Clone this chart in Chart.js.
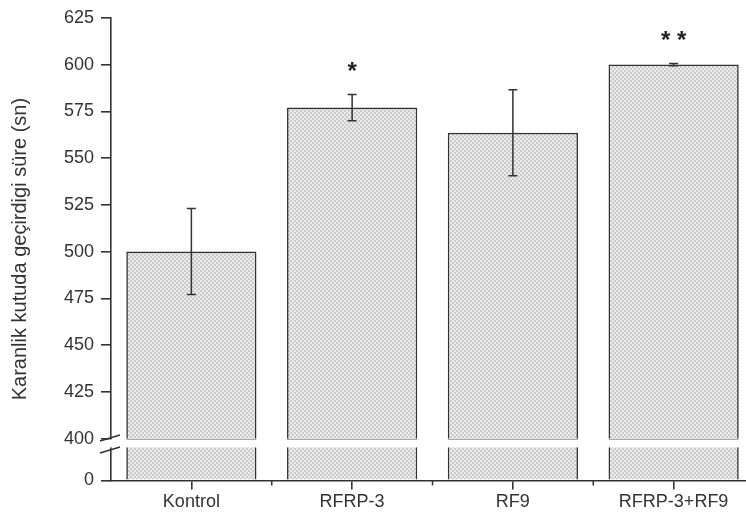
<!DOCTYPE html>
<html lang="tr">
<head>
    <meta charset="UTF-8">
    <title>Karanlik kutuda geçirdigi süre</title>
    <script src="https://cdn.jsdelivr.net/npm/chart.js"></script>
    <style>
        html, body {
            margin: 0;
            padding: 0;
            background: white;
            overflow: hidden;
        }
    </style>
</head>
<body>
    <canvas id="chart" width="760" height="515"></canvas>

    <script>
        const categories = ["Kontrol", "RFRP-3", "RF9", "RFRP-3+RF9"];
        const means = [500, 577, 563.5, 600];
        const sem = [23, 7, 23, 0.6];
        const marks = ["", "*", "", "* *"];
        const upperTicks = [400, 425, 450, 475, 500, 525, 550, 575, 600, 625];
        const lowerTicks = [0];
        const breakValue = 400;

        const ink = "#333";
        Chart.defaults.font.family = "'Liberation Sans', Arial, sans-serif";
        Chart.defaults.color = ink;

        // fine grey crosshatch like the original fill
        function hatch() {
            const c = document.createElement("canvas");
            c.width = 4; c.height = 4;
            const g = c.getContext("2d");
            for (let y = 0; y < 4; y++) {
                for (let x = 0; x < 4; x++) {
                    g.fillStyle = ((x >> 1) + (y >> 1)) % 2 ? "#cbcbcb" : "#ececec";
                    g.fillRect(x, y, 1, 1);
                }
            }
            return g.createPattern(c, "repeat");
        }
        const fill = hatch();

        const axisWidth = 75;

        const breakPlugin = {
            id: "breakPlugin",
            afterDatasetsDraw(chart) {
                const ctx = chart.ctx;
                const top = chart.scales.yTop;
                const xs = chart.scales.x;
                const meta = chart.getDatasetMeta(0);
                ctx.save();
                ctx.strokeStyle = ink;
                ctx.lineWidth = 1.5;

                // error bars + significance marks
                meta.data.forEach((bar, i) => {
                    const yHi = top.getPixelForValue(means[i] + sem[i]);
                    const yLo = top.getPixelForValue(means[i] - sem[i]);
                    ctx.beginPath();
                    ctx.moveTo(bar.x, yHi); ctx.lineTo(bar.x, yLo);
                    ctx.moveTo(bar.x - 4.5, yHi); ctx.lineTo(bar.x + 4.5, yHi);
                    ctx.moveTo(bar.x - 4.5, yLo); ctx.lineTo(bar.x + 4.5, yLo);
                    ctx.stroke();
                    if (marks[i]) {
                        ctx.fillStyle = "#222";
                        ctx.font = "bold 24px 'Liberation Sans', Arial";
                        ctx.textAlign = "center";
                        ctx.textBaseline = "middle";
                        ctx.fillText(marks[i], bar.x, yHi - 22);
                    }
                });

                // minor ticks between categories
                for (let i = 0; i < categories.length - 1; i++) {
                    const xm = (xs.getPixelForTick(i) + xs.getPixelForTick(i + 1)) / 2;
                    ctx.beginPath();
                    ctx.moveTo(xm, xs.top); ctx.lineTo(xm, xs.top + 5);
                    ctx.stroke();
                }

                // axis break: white band and two slashes
                const bTop = top.bottom + 0.8;
                const bBot = bTop + 8;
                const ax = chart.chartArea.left;
                ctx.fillStyle = "white";
                ctx.fillRect(ax - 1.5, bTop, chart.width, bBot - bTop);
                ctx.beginPath();
                ctx.moveTo(ax - 11, bTop + 1.5); ctx.lineTo(ax + 9, bTop - 4.5);
                ctx.moveTo(ax - 11, bBot + 5.5); ctx.lineTo(ax + 9, bBot - 0.5);
                ctx.stroke();
                ctx.restore();
            }
        };

        const yCommon = {
            type: "linear",
            position: "left",
            stack: "y",
            afterFit: s => { s.width = axisWidth; },
            grid: { drawOnChartArea: false, tickLength: 10, color: ink, lineWidth: 1.6 },
            border: { display: true, color: ink, width: 1.6 },
            ticks: { font: { size: 18 }, color: ink, padding: 7 }
        };

        new Chart(document.getElementById("chart"), {
            type: "bar",
            data: {
                labels: categories,
                datasets: [
                    {
                        data: means,
                        yAxisID: "yTop",
                        backgroundColor: fill,
                        borderColor: ink,
                        borderWidth: 1.6,
                        grouped: false,
                        barPercentage: 0.9,
                        categoryPercentage: 0.9
                    },
                    {
                        data: means.map(v => Math.min(v, breakValue)),
                        yAxisID: "yLow",
                        backgroundColor: fill,
                        borderColor: ink,
                        borderWidth: 1.6,
                        grouped: false,
                        barPercentage: 0.9,
                        categoryPercentage: 0.9
                    }
                ]
            },
            options: {
                responsive: false,
                animation: false,
                layout: { padding: { top: -4, right: 6, bottom: 0, left: 0 } },
                plugins: {
                    legend: { display: false },
                    tooltip: { enabled: false },
                    title: {
                        display: true,
                        position: "left",
                        fullSize: false,
                        text: "Karanlik kutuda geçirdigi süre (sn)",
                        font: { size: 20, weight: "normal" },
                        color: ink,
                        padding: { top: 8, bottom: 4 }
                    }
                },
                scales: {
                    x: {
                        offset: true,
                        grid: { drawOnChartArea: false, offset: false, tickLength: 9, color: ink, lineWidth: 1.6 },
                        border: { display: true, color: ink, width: 1.6 },
                        ticks: { font: { size: 18 }, color: ink, padding: 2 }
                    },
                    yLow: Object.assign({}, yCommon, {
                        stackWeight: 42,
                        min: 0,
                        max: breakValue,
                        afterBuildTicks: s => { s.ticks = lowerTicks.map(v => ({ value: v })); }
                    }),
                    yTop: Object.assign({}, yCommon, {
                        stackWeight: 423,
                        min: upperTicks[0],
                        max: upperTicks[upperTicks.length - 1],
                        afterBuildTicks: s => { s.ticks = upperTicks.map(v => ({ value: v })); }
                    })
                }
            },
            plugins: [breakPlugin]
        });
    </script>
</body>
</html>
